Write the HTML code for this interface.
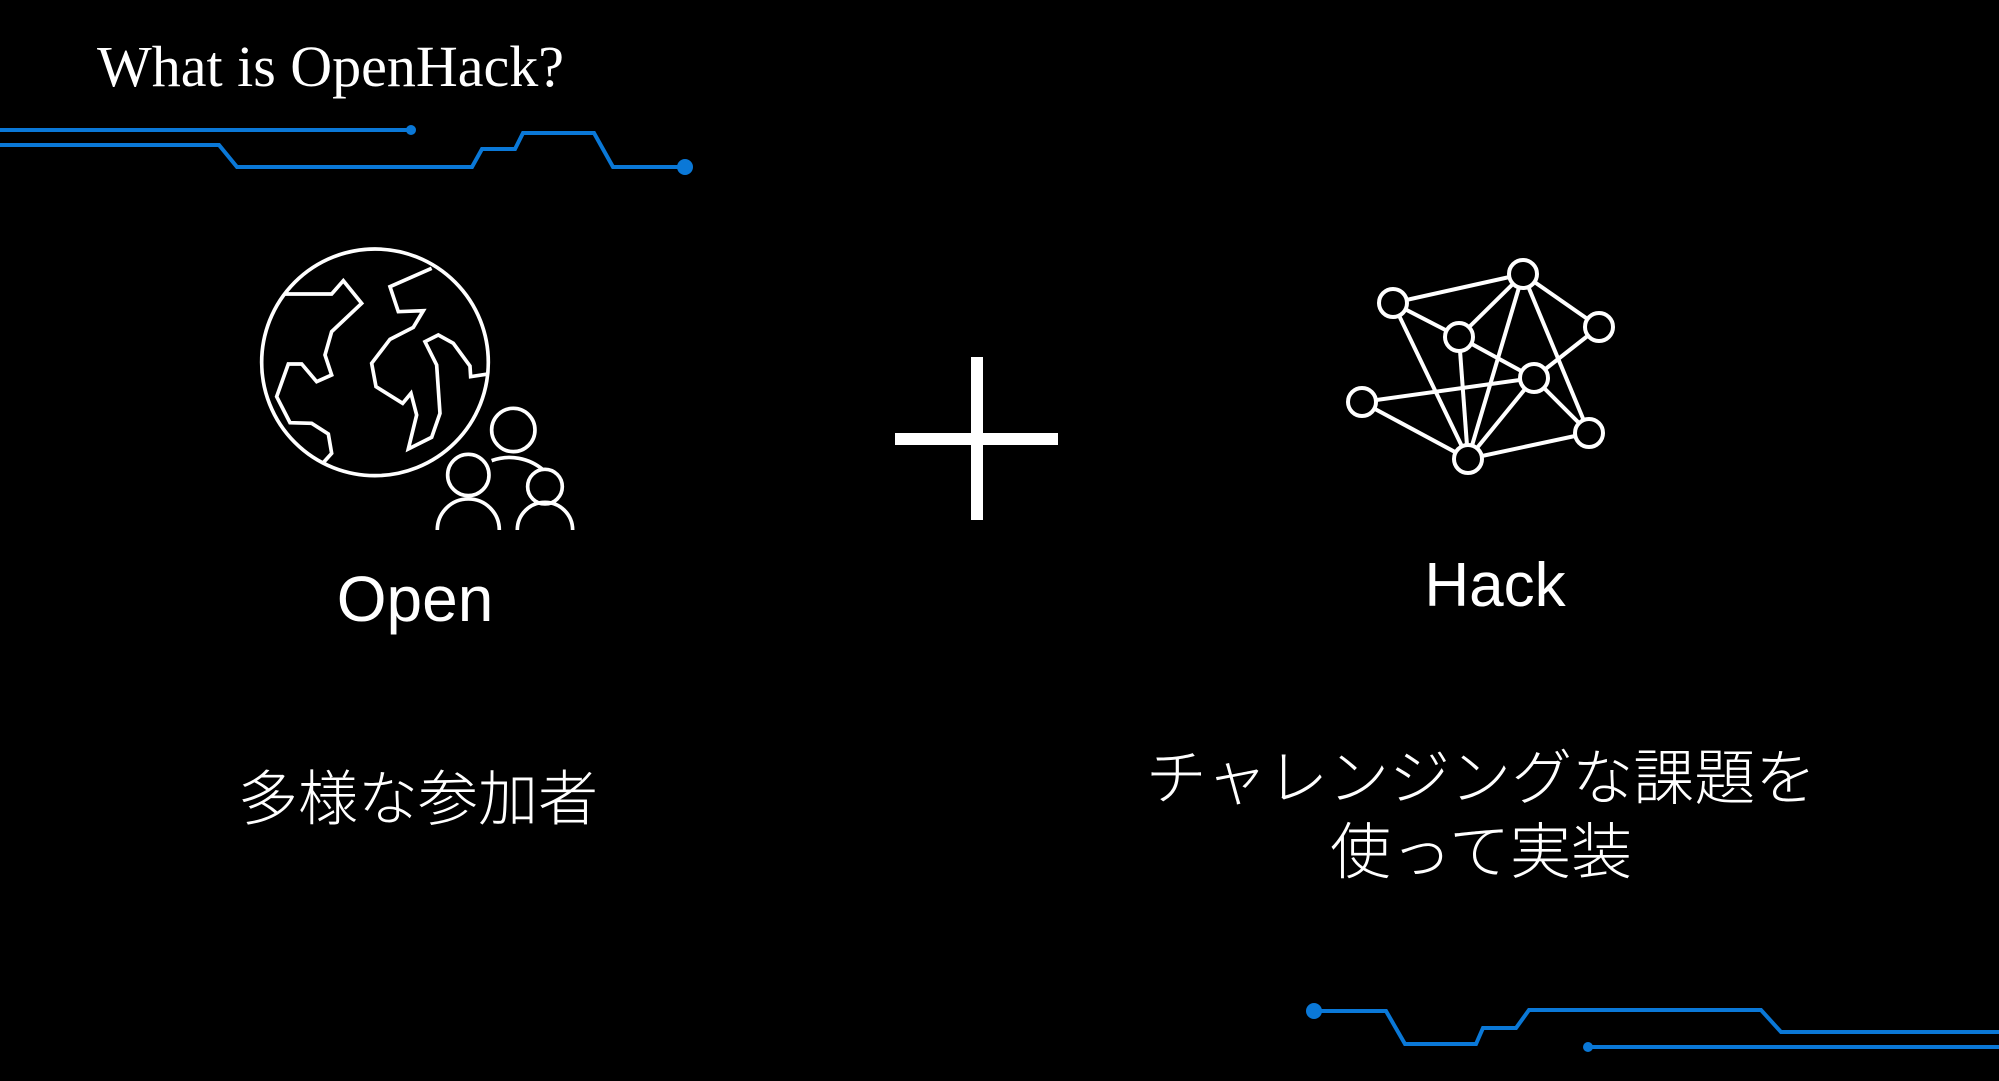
<!DOCTYPE html>
<html><head><meta charset="utf-8"><style>
html,body{margin:0;padding:0;background:#000;}
body{width:1999px;height:1081px;position:relative;overflow:hidden;}
.t{position:absolute;color:#fff;white-space:nowrap;}
.jp{font-family:"Liberation Sans","Noto Sans CJK JP",sans-serif;font-weight:300;font-size:60px;text-align:center;}
</style></head><body>
<div class="t" style="left:97px;top:32px;font-family:'Liberation Serif',serif;font-size:58px;line-height:70px;">What is OpenHack?</div>
<svg width="1999" height="1081" style="position:absolute;left:0;top:0" xmlns="http://www.w3.org/2000/svg">
<g stroke="#0a78d7" stroke-width="4" fill="none">
<polyline points="0,130 411,130"/>
<polyline points="0,145 219,145 237,167 472,167 482,149 515,149 523,133 594,133 613,167 685,167"/>
<polyline points="1314,1011 1386,1011 1405,1044 1476,1044 1483,1028 1516,1028 1529,1010 1761,1010 1781,1032 1999,1032"/>
<polyline points="1588,1047 1999,1047"/>
</g>
<g fill="#0a78d7">
<circle cx="411" cy="130" r="5"/><circle cx="685" cy="167" r="8"/>
<circle cx="1314" cy="1011" r="8"/><circle cx="1588" cy="1047" r="5"/>
</g>
<g transform="translate(250,240) scale(0.3333)" stroke="#fff" stroke-width="11" fill="none" stroke-linejoin="miter">
<circle cx="375" cy="367" r="340"/>
<polyline points="105,162 245,162 280,122 335,190 245,275 225,345 245,405 200,425 155,372 115,372 80,470 120,548 185,550 235,582 245,640 220,668"/>
<polyline points="545,85 420,140 445,215 520,212 490,262 420,298 365,370 378,440 458,490 483,460 500,525 475,627 545,592 570,520 560,375 525,305 565,285 610,310 660,378 662,410 715,402"/>
<circle cx="790" cy="570" r="65"/>
<path d="M725,662 A155,155 0 0 1 880,690"/>
<circle cx="655" cy="705" r="62"/>
<path d="M562,870 A93,93 0 0 1 748,870"/>
<circle cx="885" cy="740" r="52"/>
<path d="M802,870 A83,83 0 0 1 968,870"/>
</g>
<g fill="#fff">
<rect x="971" y="357" width="12" height="163"/>
<rect x="895" y="433" width="163" height="12"/>
</g>
<g stroke="#fff" stroke-width="4" fill="none">
<line x1="1393" y1="303" x2="1523" y2="274"/>
<line x1="1393" y1="303" x2="1459" y2="337"/>
<line x1="1393" y1="303" x2="1468" y2="459"/>
<line x1="1459" y1="337" x2="1523" y2="274"/>
<line x1="1459" y1="337" x2="1534" y2="378"/>
<line x1="1459" y1="337" x2="1468" y2="459"/>
<line x1="1523" y1="274" x2="1468" y2="459"/>
<line x1="1523" y1="274" x2="1599" y2="327"/>
<line x1="1523" y1="274" x2="1589" y2="433"/>
<line x1="1599" y1="327" x2="1534" y2="378"/>
<line x1="1362" y1="402" x2="1534" y2="378"/>
<line x1="1362" y1="402" x2="1468" y2="459"/>
<line x1="1534" y1="378" x2="1468" y2="459"/>
<line x1="1534" y1="378" x2="1589" y2="433"/>
<line x1="1468" y1="459" x2="1589" y2="433"/>
</g>
<g stroke="#fff" stroke-width="4" fill="#000">
<circle cx="1393" cy="303" r="14"/><circle cx="1523" cy="274" r="14"/>
<circle cx="1599" cy="327" r="14"/><circle cx="1459" cy="337" r="14"/>
<circle cx="1534" cy="378" r="14"/><circle cx="1362" cy="402" r="14"/>
<circle cx="1468" cy="459" r="14"/><circle cx="1589" cy="433" r="14"/>
</g>
</svg>
<div class="t" style="left:315px;width:200px;text-align:center;top:560px;font-family:'Liberation Sans',sans-serif;font-size:64px;line-height:78px;">Open</div>
<div class="t" style="left:1395px;width:200px;text-align:center;top:547px;font-family:'Liberation Sans',sans-serif;font-size:62px;line-height:78px;">Hack</div>
<div class="t jp" style="left:118px;width:600px;top:762px;line-height:76px;">多様な参加者</div>
<div class="t jp" style="left:1081px;width:800px;top:740px;line-height:76px;font-size:61px;">チャレンジングな課題を</div>
<div class="t jp" style="left:1181px;width:600px;top:814px;line-height:76px;font-size:61px;">使って実装</div>
</body></html>
